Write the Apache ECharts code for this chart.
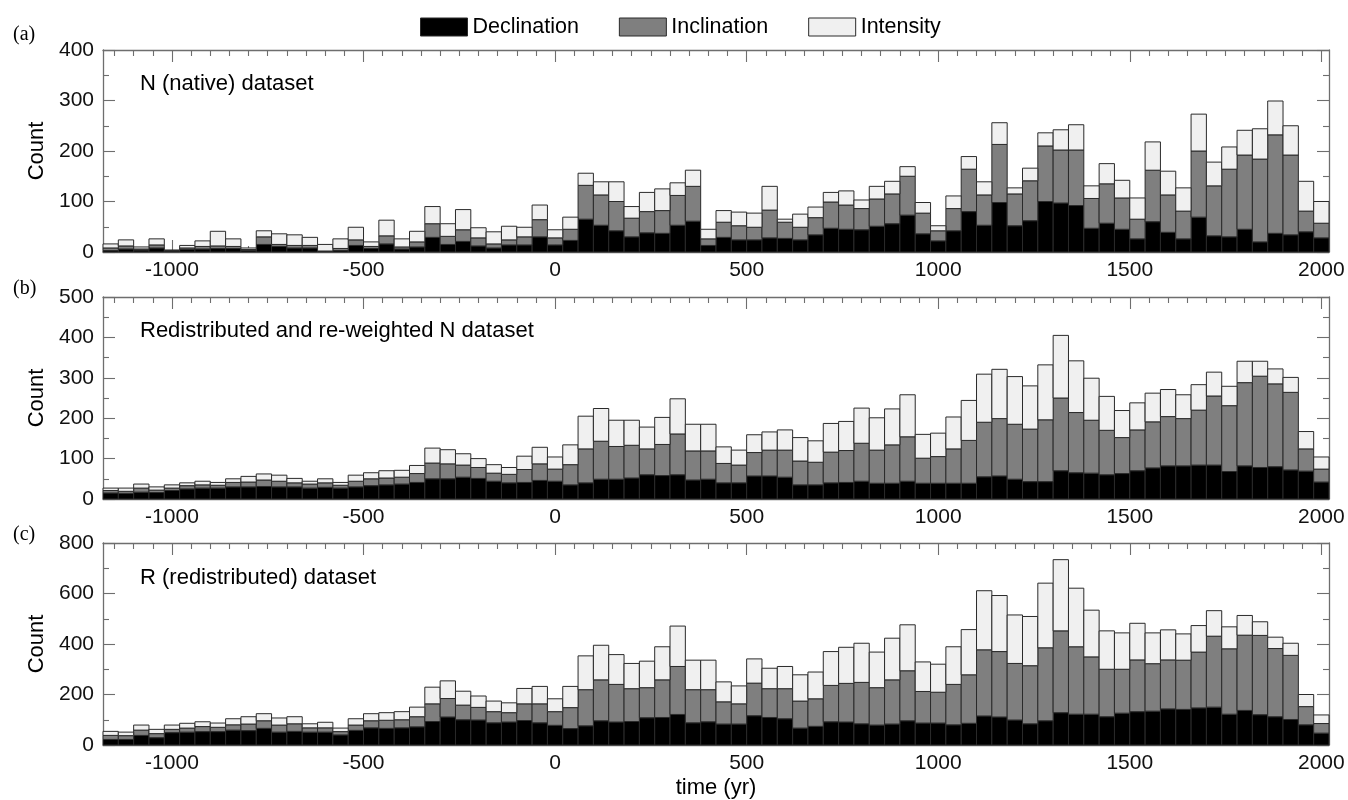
<!DOCTYPE html>
<html>
<head>
<meta charset="utf-8">
<script src="https://cdn.jsdelivr.net/npm/echarts@6/dist/echarts.min.js"></script>
<style>
  html, body { margin: 0; padding: 0; background: #fff; }
  #chart { width: 1348px; height: 800px; }
</style>
</head>
<body>
<div id="chart"></div>
<script>
// 40-year bins, centred from -1160 to 2000
const BIN_WIDTH = 40;
const binCenters = Array.from({ length: 80 }, (_, i) => -1160 + BIN_WIDTH * i);

const xMajorTicks = [-1000, -500, 0, 500, 1000, 1500, 2000];
const xMinorTicks = [];
for (let v = -1150; v <= 2000; v += 50) if (v % 500 !== 0) xMinorTicks.push(v);

// (a) N (native) dataset
const nativeDecl = [3,6,4,8,2,5,6,7,7,3,15,11,8,8,1,3,13,7,16,6,10,29,15,21,12,8,14,14,30,14,23,65,53,42,30,38,37,53,61,13,29,24,24,28,27,24,34,47,45,44,51,56,73,36,22,42,80,53,98,52,62,100,97,92,47,57,45,26,60,39,26,69,32,30,45,20,37,34,40,28];
const nativeIncl = [5,6,2,6,1,3,5,5,4,2,15,4,5,5,1,4,11,4,16,4,10,27,16,23,16,8,10,16,34,14,22,67,60,58,37,42,45,59,69,13,30,28,25,55,32,25,34,52,48,42,54,59,77,41,20,44,84,60,115,63,79,110,105,110,59,78,62,39,102,74,55,131,99,134,147,164,195,158,41,29];
const nativeInt  = [8,12,4,12,1,5,11,29,15,3,12,21,21,16,13,19,25,9,31,16,21,34,25,40,20,24,27,19,29,16,24,24,26,39,23,38,43,25,32,19,23,27,28,47,6,26,21,19,28,17,25,25,19,21,10,25,25,26,43,12,25,26,40,50,25,40,35,42,56,47,46,73,47,44,49,60,67,58,59,43];

// (b) redistributed and re-weighted N dataset
const reweightDecl = [15,14,17,16,21,25,27,27,30,30,31,30,30,27,29,27,30,33,35,37,41,50,50,54,51,44,40,41,46,44,35,40,49,49,52,60,58,60,47,49,40,40,57,57,54,35,35,40,41,44,39,39,44,39,39,39,39,55,57,49,43,43,70,65,64,60,63,70,77,82,82,84,84,68,82,78,80,72,69,42];
const reweightIncl = [6,5,10,6,6,8,8,7,11,12,16,14,10,10,11,7,14,17,17,17,22,39,37,30,27,20,21,32,41,30,50,84,94,81,81,64,77,101,72,70,48,44,58,64,67,59,56,76,79,94,82,95,110,62,66,85,106,135,142,136,130,153,180,149,131,110,89,101,114,122,117,136,171,163,206,226,205,192,55,32];
const reweightInt  = [6,8,10,8,8,7,9,7,9,14,15,15,11,7,10,7,15,15,18,17,20,37,35,28,22,21,17,33,41,30,49,81,81,65,62,54,67,87,66,66,41,37,44,45,50,58,53,71,72,87,80,89,104,59,58,79,99,119,122,118,107,136,155,128,104,84,67,67,71,67,59,63,59,48,53,37,37,37,43,30];

// (c) R (redistributed) dataset
const redistDecl = [22,22,38,29,49,51,53,53,59,57,66,51,54,51,51,40,58,68,66,68,72,93,111,100,99,88,91,97,88,78,65,76,96,91,93,108,109,121,88,92,83,83,116,109,104,67,74,92,91,84,79,83,96,87,87,80,86,115,111,99,84,96,128,122,122,112,126,132,134,143,141,147,150,122,137,120,112,101,80,47];
const redistIncl = [16,15,21,16,13,16,20,17,21,26,30,28,30,17,17,13,21,28,32,32,40,70,73,58,50,44,37,66,75,54,83,143,162,149,130,119,149,190,131,127,88,80,129,114,119,107,109,144,153,164,148,175,198,125,122,160,192,262,259,224,230,289,324,267,227,188,174,205,188,194,195,221,281,259,298,314,270,254,72,38];
const redistInt  = [16,14,20,17,17,19,19,17,24,29,28,28,28,16,22,14,25,28,30,32,38,66,70,55,45,42,39,61,69,51,84,134,137,118,100,105,131,160,117,117,79,71,96,81,88,104,106,134,143,155,141,165,182,117,111,149,179,234,222,192,195,256,282,232,185,152,144,145,122,119,104,105,101,87,78,54,45,48,48,34];

const panels = [
  { tag: '(a)', title: 'N (native) dataset', decl: nativeDecl, incl: nativeIncl, inte: nativeInt,
    yMax: 400, yStep: 100, top: 50, tagY: 35 },
  { tag: '(b)', title: 'Redistributed and re-weighted N dataset', decl: reweightDecl, incl: reweightIncl, inte: reweightInt,
    yMax: 500, yStep: 100, top: 297, tagY: 289 },
  { tag: '(c)', title: 'R (redistributed) dataset', decl: redistDecl, incl: redistIncl, inte: redistInt,
    yMax: 800, yStep: 200, top: 543, tagY: 535 }
];

const FONT = '"Liberation Sans", Arial, Helvetica, sans-serif';
const SERIF = '"Liberation Serif", "Times New Roman", serif';
const FRAME = '#6e6e6e';
const EDGE = '#2a2a2a';
const components = [
  { name: 'Declination', color: '#000000' },
  { name: 'Inclination', color: '#7f7f7f' },
  { name: 'Intensity',   color: '#f0f0f0' }
];
const GRID_H = 202;
const plainNumber = v => String(v);

function renderBin(params, api) {
  const x = api.value(0);
  const lo = api.coord([x - BIN_WIDTH / 2, api.value(1)]);
  const hi = api.coord([x + BIN_WIDTH / 2, api.value(2)]);
  return {
    type: 'rect',
    shape: { x: lo[0], y: hi[1], width: hi[0] - lo[0], height: lo[1] - hi[1] },
    style: { fill: components[params.seriesIndex % 3].color, stroke: EDGE, lineWidth: 1 }
  };
}

const grid = [], xAxis = [], yAxis = [], series = [], graphic = [];

panels.forEach((p, i) => {
  grid.push({ left: 103, right: 19, top: p.top, height: GRID_H });

  const frameLine = { show: true, onZero: false, lineStyle: { color: FRAME, width: 1.3 } };
  const hiddenLine = { show: false, onZero: false };
  const tickStyle = { color: FRAME, width: 1.1 };
  const xBase = { gridIndex: i, type: 'value', min: -1180, max: 2020, splitLine: { show: false } };

  xAxis.push(Object.assign({}, xBase, {
    position: 'bottom',
    axisLine: frameLine,
    axisTick: { inside: true, length: 12, customValues: xMajorTicks, lineStyle: tickStyle },
    axisLabel: { customValues: xMajorTicks, formatter: plainNumber, fontSize: 21, color: '#111', fontFamily: FONT, margin: 8 },
    name: i === 2 ? 'time (yr)' : '',
    nameLocation: 'middle', nameGap: 32,
    nameTextStyle: { fontSize: 22, color: '#000', fontFamily: FONT }
  }));
  xAxis.push(Object.assign({}, xBase, {
    position: 'bottom', axisLine: hiddenLine,
    axisTick: { inside: true, length: 6, customValues: xMinorTicks, lineStyle: tickStyle },
    axisLabel: { show: false }
  }));
  xAxis.push(Object.assign({}, xBase, {
    position: 'top', axisLine: frameLine,
    axisTick: { inside: true, length: 12, customValues: xMajorTicks, lineStyle: tickStyle },
    axisLabel: { show: false }
  }));
  xAxis.push(Object.assign({}, xBase, {
    position: 'top', axisLine: hiddenLine,
    axisTick: { inside: true, length: 6, customValues: xMinorTicks, lineStyle: tickStyle },
    axisLabel: { show: false }
  }));

  const yBase = {
    gridIndex: i, type: 'value', min: 0, max: p.yMax, interval: p.yStep,
    splitLine: { show: false },
    axisLine: frameLine,
    axisTick: { inside: true, length: 12, lineStyle: tickStyle },
    minorTick: { show: true, splitNumber: 2, length: 6, lineStyle: tickStyle }
  };
  yAxis.push(Object.assign({}, yBase, {
    position: 'left',
    axisLabel: { formatter: plainNumber, fontSize: 21, color: '#111', fontFamily: FONT, margin: 9 },
    name: 'Count', nameLocation: 'middle', nameGap: 53, nameRotate: 90,
    nameTextStyle: { fontSize: 22, color: '#000', fontFamily: FONT }
  }));
  yAxis.push(Object.assign({}, yBase, { position: 'right', axisLabel: { show: false } }));

  const layers = [p.decl, p.incl, p.inte];
  const base = binCenters.map(() => 0);
  layers.forEach((vals, c) => {
    const data = binCenters.map((x, k) => {
      const lo = base[k];
      base[k] += vals[k];
      return [x, lo, base[k]];
    });
    series.push({
      type: 'custom', name: components[c].name,
      xAxisIndex: 4 * i, yAxisIndex: 2 * i,
      renderItem: renderBin,
      encode: { x: 0, y: [1, 2] },
      itemStyle: { color: components[c].color, borderColor: EDGE, borderWidth: 1 },
      data: data,
      z: 3
    });
  });

  graphic.push({
    type: 'text', x: 13, y: p.tagY,
    style: { text: p.tag, font: '20px ' + SERIF, fill: '#000', textVerticalAlign: 'middle' }
  });
  graphic.push({
    type: 'text', x: 140, y: p.top + (i === 2 ? 35 : 34),
    style: { text: p.title, font: '22px ' + FONT, fill: '#000', textVerticalAlign: 'middle' }
  });
});

const chart = echarts.init(document.getElementById('chart'), null, { renderer: 'canvas' });
chart.setOption({
  animation: false,
  backgroundColor: '#fff',
  legend: {
    left: 415, top: 11,
    itemWidth: 47, itemHeight: 18, itemGap: 40,
    icon: 'rect',
    textStyle: { fontSize: 21.5, color: '#000', fontFamily: FONT },
    data: components.map(c => ({
      name: c.name,
      itemStyle: { color: c.color, borderColor: EDGE, borderWidth: 1 }
    }))
  },
  grid: grid,
  xAxis: xAxis,
  yAxis: yAxis,
  series: series,
  graphic: graphic
});
</script>
</body>
</html>
